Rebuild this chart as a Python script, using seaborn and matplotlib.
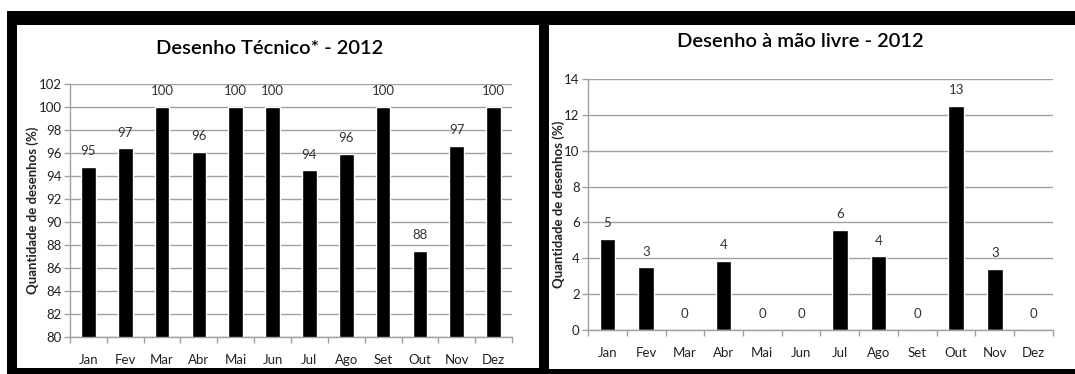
import matplotlib
matplotlib.use("Agg")
import matplotlib.pyplot as plt
from matplotlib import font_manager
from matplotlib.patches import Rectangle
from matplotlib.ticker import FixedLocator
import seaborn as sns
import pandas as pd

months = ["Jan", "Fev", "Mar", "Abr", "Mai", "Jun", "Jul", "Ago", "Set", "Out", "Nov", "Dez"]
tecnico_values = [94.8, 96.4, 100, 96.1, 100, 100, 94.5, 95.9, 100, 87.5, 96.6, 100]
tecnico_labels = ["95", "97", "100", "96", "100", "100", "94", "96", "100", "88", "97", "100"]
livre_values = [5.1, 3.5, 0, 3.85, 0, 0, 5.6, 4.1, 0, 12.5, 3.4, 0]
livre_labels = ["5", "3", "0", "4", "0", "0", "6", "4", "0", "13", "3", "0"]
title_left = "Desenho Técnico* - 2012"
title_right = "Desenho à mão livre - 2012"
ylabel = "Quantidade de desenhos (%)"

sns.set_theme(style="white")
names = {f.name for f in font_manager.fontManager.ttflist}
FONT = "Liberation Sans Narrow" if "Liberation Sans Narrow" in names else "Lato"
plt.rcParams["font.family"] = [FONT, "DejaVu Sans"]

W, H = 1075, 374
fig = plt.figure(figsize=(W / 100, H / 100), dpi=100)
fig.patch.set_facecolor("white")

def px_rect(x0, y0, x1, y1, color, z):
    fig.patches.append(Rectangle((x0 / W, 1 - y1 / H), (x1 - x0) / W, (y1 - y0) / H,
                                 transform=fig.transFigure, facecolor=color,
                                 edgecolor="none", zorder=z))

# black frame with two white panels
px_rect(7, 11, 1075, 374, "black", -3)
px_rect(17, 25, 539, 368, "white", -2)
px_rect(549, 25, 1075, 369, "white", -2)

GRID = "#a0a0a0"
TXT = "#222222"

def axes_px(x0, y0, x1, y1):
    ax = fig.add_axes([x0 / W, 1 - y1 / H, (x1 - x0) / W, (y1 - y0) / H])
    ax.set_zorder(1)
    return ax

def draw(ax, values, labels, ymin, ymax, lab_x):
    df = pd.DataFrame({"mes": months, "valor": values})
    sns.barplot(data=df, x="mes", y="valor", ax=ax, color="black", width=0.4,
                saturation=1, order=months)
    ax.set_facecolor("none")
    ax.patch.set_alpha(0)
    ax.set_ylim(ymin, ymax)
    ax.set_xlim(-0.5, len(months) - 0.5)
    ax.set_yticks(range(ymin, ymax + 1, 2))
    ax.yaxis.grid(True, color=GRID, linewidth=1)
    ax.set_axisbelow(True)
    for s in ["top", "right"]:
        ax.spines[s].set_visible(False)
    for s in ["left", "bottom"]:
        ax.spines[s].set_color(GRID)
        ax.spines[s].set_linewidth(1)
    ax.xaxis.set_minor_locator(FixedLocator([i - 0.5 for i in range(len(months) + 1)]))
    ax.tick_params(axis="x", which="major", length=0, pad=12, labelsize=9.5, labelcolor=TXT)
    ax.tick_params(axis="x", which="minor", length=4, width=1, color=GRID, direction="out", bottom=True)
    ax.tick_params(axis="y", which="major", length=4, width=1, color=GRID, direction="out",
                   left=True, pad=2, labelsize=9.5, labelcolor=TXT)
    ax.set_xlabel("")
    ax.set_ylabel(ylabel, fontsize=9.5, fontweight="bold", color=TXT)
    ax.yaxis.set_label_coords(lab_x, 0.5)
    ax.bar_label(ax.containers[0], labels=labels, padding=7, fontsize=9.5, color="#333333")

axL = axes_px(70, 84, 512, 337)
draw(axL, tecnico_values, tecnico_labels, 80, 102, -0.070)
axR = axes_px(588, 79, 1053, 330)
draw(axR, livre_values, livre_labels, 0, 14, -0.049)

fig.text(270 / W, 1 - 54 / H, title_left, ha="center", va="baseline", fontsize=14.5,
         fontweight="semibold", color="black")
fig.text(800 / W, 1 - 47 / H, title_right, ha="center", va="baseline", fontsize=14.5,
         fontweight="semibold", color="black")

fig.savefig("out.png", dpi=100, facecolor="white")
